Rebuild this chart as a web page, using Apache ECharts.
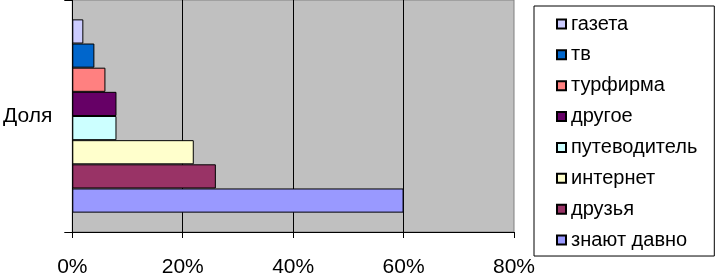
<!DOCTYPE html>
<html>
<head>
<meta charset="utf-8">
<script src="https://cdn.jsdelivr.net/npm/echarts@6/dist/echarts.min.js"></script>
<style>html,body{margin:0;padding:0;background:#fff;}#c{width:716px;height:278px;}</style>
</head>
<body>
<div id="c"></div>
<script>
const categories = ['Доля'];
const seriesNames = ['газета', 'тв', 'турфирма', 'другое', 'путеводитель', 'интернет', 'друзья', 'знают давно'];
const seriesValues = [2, 4, 6, 8, 8, 22, 26, 60];
const seriesColors = ['#CCCCFF', '#0066CC', '#FF8080', '#660066', '#CCFFFF', '#FFFFCC', '#993366', '#9999FF'];
const xTicks = [0, 20, 40, 60, 80];

const chart = echarts.init(document.getElementById('c'), null, {renderer: 'canvas'});
const series = seriesNames.map((name, i) => ({
  name: name,
  type: 'bar',
  data: [seriesValues[i]],
  barGap: '0%',
  barCategoryGap: '16.7%',
  itemStyle: {color: seriesColors[i], borderColor: '#000', borderWidth: 1},
  emphasis: {disabled: true},
  animation: false
}));
chart.setOption({
  animation: false,
  textStyle: {fontFamily: 'Liberation Sans, Arial, sans-serif'},
  grid: {left: 72, top: 0, width: 442, height: 234, show: true, backgroundColor: '#C0C0C0', borderColor: '#808080', borderWidth: 1, containLabel: false},
  legend: {
    orient: 'vertical',
    left: 534, top: 6,
    data: seriesNames,
    icon: 'rect',
    itemWidth: 9, itemHeight: 9,
    itemGap: 10.86,
    padding: [8, 17, 6, 22],
    backgroundColor: '#fff', borderColor: '#000', borderWidth: 1,
    selectedMode: false,
    textStyle: {fontSize: 20, color: '#000', lineHeight: 20, fontFamily: 'Liberation Sans, Arial, sans-serif'}
  },
  xAxis: {
    type: 'value', min: xTicks[0], max: xTicks[xTicks.length - 1], interval: 20,
    axisLine: {show: true, lineStyle: {color: '#000', width: 1}},
    axisTick: {show: true, length: 6, lineStyle: {color: '#000'}},
    axisLabel: {formatter: '{value}%', fontSize: 21, lineHeight: 21, color: '#000', margin: 25},
    splitLine: {show: true, showMinLine: false, showMaxLine: false, lineStyle: {color: '#000', width: 1}}
  },
  yAxis: {
    type: 'category', data: categories,
    axisLine: {show: true, lineStyle: {color: '#000', width: 1}},
    axisTick: {show: true, length: 8, lineStyle: {color: '#000'}},
    axisLabel: {fontSize: 21, color: '#000', margin: 20}
  },
  series: series
});
</script>
</body>
</html>
